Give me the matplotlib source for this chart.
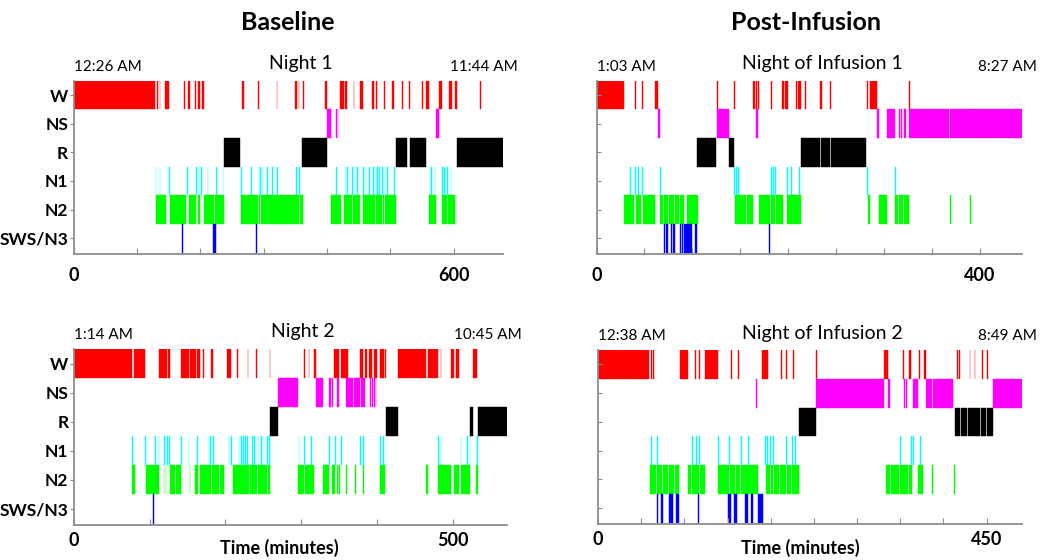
import matplotlib.pyplot as plt

plt.rcParams['font.family'] = ['Lato', 'DejaVu Sans']

STAGES = ['W', 'NS', 'R', 'N1', 'N2', 'SWS/N3']
STAGE_COLORS = ['#ff0000', '#ff00ff', '#000000', '#00ffff', '#00ff00', '#0000ff']

# scored epochs in minutes from lights off: (start, end) runs, or a single
# number for a lone 1-minute epoch

# Baseline, night 1 (12:26 AM - 11:44 AM)
b1_w = [(0, 128.6), 132, 135.5, (144.5, 150.8), (173.4, 176), (179.8, 183), (190.9, 193.5),
        (197, 199.6), (202.4, 205), (265.8, 268.4), 291, 320.5, (350.2, 352.8), 355.4, 362.5,
        (396.6, 399.3), (420.3, 426.6), (428.2, 430.9), 442.4, (451.4, 456.7), (471.4, 474.1),
        (476.7, 479.4), 490.5, (502, 505.6), 518.9, 529.5, 550, (556, 561.2), (577, 581),
        (592.9, 596.6), (602.3, 605), 642]
b1_ns = [(399.3, 405.6), 414, 417, (572.7, 577)]
b1_r = [(236.7, 263), (360.7, 399.3), (508.3, 526.8), (531, 555.8), (605.1, 678)]
b1_n1 = [129.7, 135.5, 150.8, 178.7, 193, 197.2, 200.9, 211.4, 224.6, 235.2, 264.2, 280, 292.1,
         294.8, 298.5, 305.3, 313.2, 321.1, 351.2, 356.5, 414.5, 427.7, 431.9, 439.8, 443.5,
         447.7, 456.7, 460.9, 466.2, 472.5, 476.7, 479.4, 482, 487.3, 491, 495.2, 505.7, 562.1,
         (564, 566), 570, 582.2, 584.8, 590.1, 595.4]
b1_n2 = [(130.2, 145.5), (151.3, 170.5), (171.5, 177.7), (182.4, 193), 196.5, 198.5,
         (205.1, 221.5), (222.5, 236.8), (264.7, 281), (282, 291.5), (292.5, 294.3),
         (295.3, 320.5), (321.5, 350.7), (351.7, 356), (357, 361.7), (405.6, 421.4),
         (426.9, 439.5), (440.5, 451.7), (456.7, 476.2), (477.2, 486.8), (487.8, 490.5),
         (491.5, 508.4), (561.1, 571.6), (582.2, 589.6), (590.6, 602.3)]
b1_sws = [(170.8, 172.4), (219.9, 224.1), (287.9, 289.5)]

# Baseline, night 2 (1:14 AM - 10:45 AM)
b2_w = [(0, 77.3), (79.9, 94), (112.5, 122.7), (123.6, 127.1), (141.6, 151.3), (152.6, 161.4),
        (162.3, 165.8), 170.2, 181, 182.5, (202, 207.7), 215.2, 229.3, 240.3, 258.3, 304.1,
        309.8, (316.4, 319.5), (342.9, 349.4), (352.6, 361.3), (378.1, 381.2), (383.7, 386.8),
        (389, 393.4), (395.7, 400.1), (404.5, 408.9), 410.2, (427.4, 464), (467.5, 480.2),
        483.8, (497.9, 501.4), (504.5, 508.1), (527, 531.4)]
b2_ns = [(268.8, 295.7), (319.5, 328.7), 336.5, 338.5, 341, (347.3, 350.4), (359.4, 368),
         (369, 377.9), (378.8, 384.6), 391, 393.5, 396, 398]
b2_r = [(259.2, 268.8), (412.4, 427.4), (522.5, 526.5), (533.1, 571)]
b2_n1 = [77.3, 94.5, 107.3, 111.7, 119.6, 122.7, 125.8, 141.2, 151.3, 162.3, 177.7, 179.9,
         183.5, 204.1, 207.7, 217.4, 220.4, 223.1, 226.2, 228.4, 235, 238, 242.4, 246.9, 250.4,
         254.8, 257.5, 296.6, 304.1, 312.9, 337.1, 345, 352.6, 378.1, 381.2, 404.5, 407.6,
         480.2, 483.8, 510.2, 519, 522.1, 532.2]
b2_n2 = [(77.3, 80.8), (95.4, 113), 118.5, 121, (127.1, 134), (134.8, 141.6), 152.6,
         (160.1, 163.6), (165.8, 170), (170.8, 181), (182, 191.5), (192.3, 197.5), (209.4, 215),
         (215.8, 224), (224.8, 231), (231.8, 242), (242.8, 245), (246, 255), (256, 258.3),
         (295.7, 304), (305, 307), (308, 312.5), (313.3, 316.4), (328.7, 337.1), (339.9, 345),
         347, 349.5, 359.6, 371.5, 381.2, (403.6, 411.1), (464.5, 466.5), (480.2, 489),
         (490, 497.8), (501.4, 508.1), (510.4, 521.9), (530.6, 532.8)]
b2_sws = [105]

# Night of infusion 1 (1:03 AM - 8:27 AM)
i1_w = [(0, 29), 40.5, 47, (60.6, 63.7), 125.5, 143.9, (163.7, 165), 166, (168.2, 169.6),
        181.8, (194, 196), (196.8, 200.2), 208.5, (210, 213.3), 218, (232.8, 235.3), 243.2, 282,
        (285.9, 292.9), 325.9]
i1_ns = [(63.7, 65.8), (125.5, 138.7), (166.5, 168.2), (292.9, 295.3), (303.3, 311.7), 315.5,
         317.5, (320.6, 323), (325.9, 368), (368.6, 389.6), (390.2, 444)]
i1_r = [(104.7, 124.5), (138.7, 143.6), (213, 232.8), (233.8, 243.2), (244.3, 281.4)]
i1_n1 = [35.2, 40.5, 42.9, 47.7, 66.5, 143.9, 146, 148.1, 182.1, 184.2, 186.3, 198.4, 202.6,
         211.3, 282.4, 311.7]
i1_n2 = [(29, 39.5), (41.5, 46), (48, 60.6), (65.8, 69), (70, 75), (76, 80.5), (81.5, 86),
         (87, 91.8), (94.3, 105.4), (144.6, 156), (157, 163.5), (170, 181.5), (182.5, 186),
         (187, 194.3), (198.4, 213), (283.1, 285.9), (294.6, 303.3), (311.9, 315), (316, 320),
         (321, 325.9), 368.9, 389.8]
i1_sws = [(70, 71.5), (73, 74.5), (77.6, 79), (80, 81.4), (87.3, 88.5), 89.5, (91.5, 99.5),
          (102.3, 104.7), 180]

# Night of infusion 2 (12:38 AM - 8:49 AM)
i2_w = [(0, 59.3), 61, 63.5, (95, 103.9), 112.4, 117, (123.9, 138.5), 154, 162.4,
        (190.5, 193), (194, 197.1), 212.5, 218.3, 226, 252.5, (331.4, 335.3), 353.3,
        (360.3, 362.2), 371.8, (377.6, 380.3), (415.4, 417), 418.5, 430.3, 436.1, 444.9, 450.7]
i2_ns = [182.7, (252.5, 331.4), (335.3, 338), 354.5, 357, (365.3, 371.1), (380.3, 386.4),
         (388.4, 411.1), (457.3, 491)]
i2_r = [(232.5, 252.5), (413.1, 419.6), (420.4, 427.3), (428.1, 435), (435.8, 442.7),
        (443.5, 449.6), (450.4, 457.3)]
i2_n1 = [61.6, 68.1, 108.5, 113.2, 117.4, 138.6, 152, 165.5, 174, 193.2, 195.9, 199, 202.9,
         218.3, 224.8, 228.7, 349.5, 363, 364.9, 373]
i2_n2 = [(60.4, 67.5), (68.5, 74.5), (75.5, 81.5), (82.5, 88.5), (89.5, 93.9), (103.9, 108),
         (109, 113), (114, 117.5), (118.5, 123.9), (139.3, 151.5), (152.5, 158.5), (159.5, 165),
         (166, 175.5), (176.5, 185.5), (194.4, 199), (200, 202.5), (203.5, 210), (211, 218),
         (219, 224), (225, 232.5), (334.1, 338), (339, 349), (350, 355), (356, 359), (360, 364.2),
         (371.1, 376.9), 387.3, 412.3]
i2_sws = [(68.1, 70), (73.1, 75.8), (82.3, 84), (85, 87.4), (90.1, 93.9), (115.5, 117),
          (151, 154), (157.4, 161.3), (170.1, 174), (176.7, 179), (185.5, 191.3)]

NIGHTS = [
    dict(title='Night 1', start='12:26 AM', end='11:44 AM', length=678, step=100, label_at=600,
         stages=[b1_w, b1_ns, b1_r, b1_n1, b1_n2, b1_sws],
         rect=[0.0702, 0.5464, 0.4089, 0.3095], ylabels=True, xlabel=False),
    dict(title='Night of Infusion 1', start='1:03 AM', end='8:27 AM', length=444, step=50,
         label_at=400, stages=[i1_w, i1_ns, i1_r, i1_n1, i1_n2, i1_sws],
         rect=[0.5681, 0.5464, 0.4052, 0.3095], ylabels=False, xlabel=False),
    dict(title='Night 2', start='1:14 AM', end='10:45 AM', length=571, step=100, label_at=500,
         stages=[b2_w, b2_ns, b2_r, b2_n1, b2_n2, b2_sws],
         rect=[0.0703, 0.0625, 0.4123, 0.3143], ylabels=True, xlabel=True),
    dict(title='Night of Infusion 2', start='12:38 AM', end='8:49 AM', length=491, step=50,
         label_at=450, stages=[i2_w, i2_ns, i2_r, i2_n1, i2_n2, i2_sws],
         rect=[0.5695, 0.0643, 0.4038, 0.3107], ylabels=False, xlabel=True),
]


def spans(items):
    out = []
    for it in items:
        if isinstance(it, tuple):
            out.append((it[0], it[1] - it[0]))
        else:
            out.append((it, 1.0))
    return out


def draw_night(fig, night):
    ax = fig.add_axes(night['rect'])
    for row, (runs, color) in enumerate(zip(night['stages'], STAGE_COLORS), start=1):
        ax.broken_barh(spans(runs), (row - 0.5, 1), facecolors=color,
                       edgecolors=color, linewidth=0.3)
    ax.set_xlim(0, night['length'])
    ax.set_ylim(6.55, 0.5)

    for side in ['top', 'right']:
        ax.spines[side].set_visible(False)
    for side in ['left', 'bottom']:
        ax.spines[side].set_color('#8c8c8c')
        ax.spines[side].set_linewidth(1.3)

    ticks = list(range(0, night['length'] + 1, night['step']))
    ax.set_xticks(ticks)
    ax.set_xticklabels([str(t) if t in (0, night['label_at']) else '' for t in ticks],
                       fontsize=13, fontweight='bold')
    ax.tick_params(axis='x', direction='in', length=4, color='#8c8c8c',
                   pad=9 if not night['xlabel'] else 5)
    ax.set_yticks(range(1, 7))
    if night['ylabels']:
        ax.set_yticklabels(STAGES, fontsize=12.5, fontweight='bold')
        ax.tick_params(axis='y', direction='out', length=3, color='#8c8c8c', pad=1)
    else:
        ax.set_yticklabels([])
        ax.tick_params(axis='y', direction='in', length=3, color='#8c8c8c')

    ax.annotate(night['start'], xy=(0, 1), xycoords='axes fraction', xytext=(0, 14),
                textcoords='offset pixels', ha='left', va='center', fontsize=11)
    ax.annotate(night['end'], xy=(1, 1), xycoords='axes fraction', xytext=(15, 14),
                textcoords='offset pixels', ha='right', va='center', fontsize=11)
    ax.annotate(night['title'], xy=(0.53, 1), xycoords='axes fraction', xytext=(0, 17),
                textcoords='offset pixels', ha='center', va='center', fontsize=14)
    return ax


fig = plt.figure(figsize=(10.5, 5.6), dpi=100)
for night in NIGHTS:
    draw_night(fig, night)

fig.text(288 / 1050, 1 - 22 / 560, 'Baseline', ha='center', va='center',
         fontsize=18, fontweight='bold')
fig.text(806 / 1050, 1 - 22 / 560, 'Post-Infusion', ha='center', va='center',
         fontsize=18, fontweight='bold')
fig.text(279.5 / 1050, 1 - 548 / 560, 'Time (minutes)', ha='center', va='center',
         fontsize=13, fontweight='bold')
fig.text(800 / 1050, 1 - 548 / 560, 'Time (minutes)', ha='center', va='center',
         fontsize=13, fontweight='bold')

fig.savefig('out.png', dpi=100)
